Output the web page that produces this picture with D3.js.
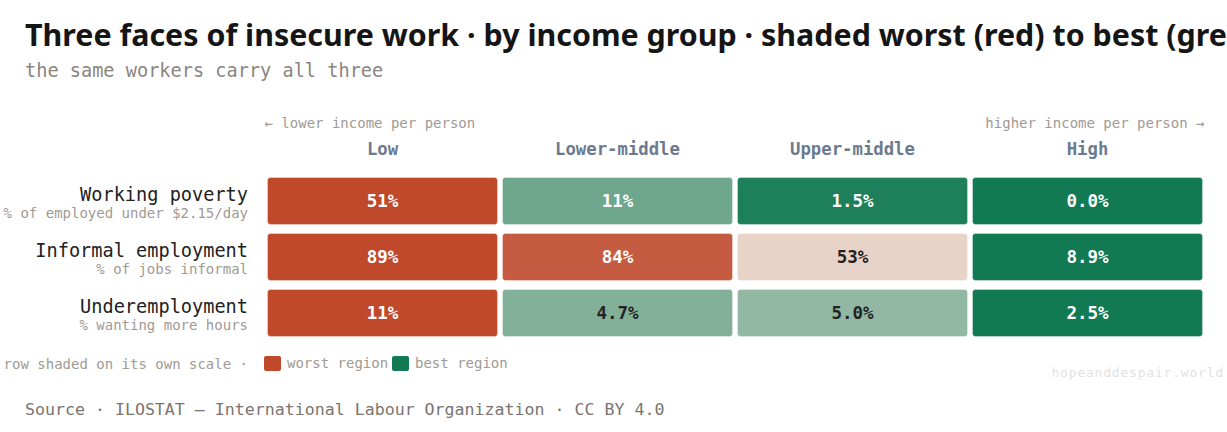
<!DOCTYPE html>
<html>
<head>
<meta charset="utf-8">
<script src="https://cdn.jsdelivr.net/npm/d3@7"></script>
<style>
  html, body { margin: 0; padding: 0; background: #fff; overflow: hidden; }
</style>
</head>
<body>
<div id="svg"></div>
<script>
///////////////Data
var incomeGroups = ["Low", "Lower-middle", "Upper-middle", "High"];
var measures = ["Working poverty", "Informal employment", "Underemployment"];
var measureNotes = ["% of employed under $2.15/day", "% of jobs informal", "% wanting more hours"];
var workingPoverty = [51, 11, 1.5, 0.0];
var informalEmployment = [89, 84, 53, 8.9];
var underemployment = [11, 4.7, 5.0, 2.5];
var rowValues = [workingPoverty, informalEmployment, underemployment];

var svgWidth = 1227, svgHeight = 432;
var monoFont = "'DejaVu Sans Mono', monospace";
var worstColour = "#c0492b", midColour = "#ece3db", bestColour = "#117a53";

var divDOM = d3.select("body").select("div#svg");

function renderChart() {
    divDOM.selectAll("svg").remove();
    var svg = divDOM.append("svg")
        .attr("width", svgWidth)
        .attr("height", svgHeight)
        .style("display", "block");

    //title + subtitle
    svg.append("text")
        .text("Three faces of insecure work · by income group · shaded worst (red) to best (green)")
        .attr("x", 25).attr("y", 46)
        .attr("font-family", "'Noto Sans', sans-serif")
        .attr("font-weight", 700)
        .attr("font-size", 30.4)
        .attr("fill", "#151515");
    svg.append("text")
        .text("the same workers carry all three")
        .attr("x", 25).attr("y", 77)
        .attr("font-family", monoFont)
        .attr("font-size", 18.6)
        .attr("fill", "#8a8580");

    var x = d3.scaleBand().domain(incomeGroups).range([265, 1205]).paddingInner(0.0213).paddingOuter(0.0106);
    var y = d3.scaleBand().domain(measures).range([173, 341]).paddingInner(0.16).paddingOuter(0.08);

    //direction notes
    svg.append("text")
        .text("← lower income per person")
        .attr("x", x(incomeGroups[0]) - 3).attr("y", 128)
        .attr("font-family", monoFont).attr("font-size", 14)
        .attr("fill", "#a09a94");
    svg.append("text")
        .text("higher income per person →")
        .attr("x", x(incomeGroups[3]) + x.bandwidth() + 2).attr("y", 128)
        .attr("text-anchor", "end")
        .attr("font-family", monoFont).attr("font-size", 14)
        .attr("fill", "#a09a94");

    //column headers
    svg.append("g").selectAll("text")
        .data(incomeGroups)
        .join("text")
        .text(function(d) { return d; })
        .attr("x", function(d) { return x(d) + x.bandwidth() / 2; })
        .attr("y", 155)
        .attr("text-anchor", "middle")
        .attr("font-family", monoFont)
        .attr("font-weight", 700)
        .attr("font-size", 17.3)
        .attr("fill", "#6b7a8f");

    //row labels
    var labels = svg.append("g").selectAll("g")
        .data(measures)
        .join("g");
    labels.append("text")
        .text(function(d) { return d; })
        .attr("x", 248)
        .attr("y", function(d) { return y(d) + 23.5; })
        .attr("text-anchor", "end")
        .attr("font-family", monoFont)
        .attr("font-size", 18.6)
        .attr("fill", "#222");
    labels.append("text")
        .text(function(d, i) { return measureNotes[i]; })
        .attr("x", 248)
        .attr("y", function(d) { return y(d) + 41; })
        .attr("text-anchor", "end")
        .attr("font-family", monoFont)
        .attr("font-size", 14)
        .attr("fill", "#a09a94");

    //cells, each row on its own scale
    var cells = svg.append("g");
    rowValues.forEach(function(vals, r) {
        var lo = d3.min(vals), hi = d3.max(vals);
        var colour = d3.scaleLinear()
            .domain([lo, (lo + hi) / 2, hi])
            .range([bestColour, midColour, worstColour])
            .interpolate(d3.interpolateRgb);
        var g = cells.append("g");
        var cell = g.selectAll("g")
            .data(vals)
            .join("g");
        cell.append("rect")
            .attr("x", function(d, i) { return x(incomeGroups[i]); })
            .attr("y", y(measures[r]))
            .attr("width", x.bandwidth())
            .attr("height", y.bandwidth())
            .attr("rx", 3)
            .attr("fill", function(d) { return colour(d); })
            .attr("stroke", "#fff")
            .attr("stroke-opacity", 0.35)
            .attr("stroke-width", 1);
        cell.append("text")
            .text(function(d) { return d >= 10 ? d3.format(".0f")(d) + "%" : d3.format(".1f")(d) + "%"; })
            .attr("x", function(d, i) { return x(incomeGroups[i]) + x.bandwidth() / 2; })
            .attr("y", y(measures[r]) + y.bandwidth() / 2 + 6)
            .attr("text-anchor", "middle")
            .attr("font-family", monoFont)
            .attr("font-weight", 700)
            .attr("font-size", 17.5)
            .attr("fill", function(d) { return d3.lab(colour(d)).l > 66 ? "#222" : "#fff"; });
    });

    //legend
    svg.append("text")
        .text("row shaded on its own scale ·")
        .attr("x", 248).attr("y", 369)
        .attr("text-anchor", "end")
        .attr("font-family", monoFont).attr("font-size", 14)
        .attr("fill", "#a09a94");
    var legendItems = [["worst region", worstColour, 264], ["best region", bestColour, 392]];
    legendItems.forEach(function(item) {
        svg.append("rect")
            .attr("x", item[2]).attr("y", 356)
            .attr("width", 17).attr("height", 15)
            .attr("rx", 2)
            .attr("fill", item[1]);
        svg.append("text")
            .text(item[0])
            .attr("x", item[2] + 23).attr("y", 368)
            .attr("font-family", monoFont).attr("font-size", 14)
            .attr("fill", "#a09a94");
    });

    //watermark
    svg.append("text")
        .text("hopeanddespair.world")
        .attr("x", 1224).attr("y", 377)
        .attr("text-anchor", "end")
        .attr("font-family", monoFont).attr("font-size", 13)
        .attr("letter-spacing", 0.8)
        .attr("fill", "#e2e2e2");

    //source
    svg.append("text")
        .text("Source · ILOSTAT — International Labour Organization · CC BY 4.0")
        .attr("x", 25).attr("y", 415)
        .attr("font-family", monoFont).attr("font-size", 16.6)
        .attr("fill", "#7a7570");
}
renderChart();
</script>
</body>
</html>
